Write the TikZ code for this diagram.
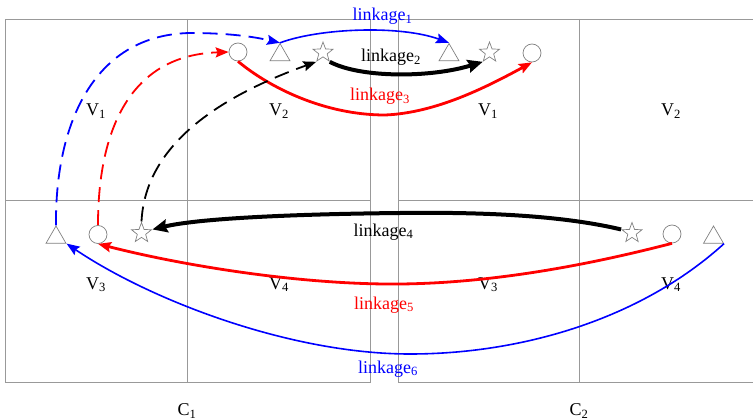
\documentclass[tikz,border=0pt]{standalone}
\usepackage{fontspec}
\setmainfont{Liberation Serif}
\usetikzlibrary{shapes.geometric,arrows.meta}
\newcommand\lnkg[1]{linkage\textsubscript{#1}}
\begin{document}
\begin{tikzpicture}[x=1pt,y=-1pt,
  gridline/.style={draw=black!40, line width=0.9pt},
  tri/.style={regular polygon, regular polygon sides=3, draw=gray, line width=0.7pt, minimum size=23pt, inner sep=0pt},
  starshape/.style={star, star points=5, star point ratio=2.4, draw=gray, line width=0.7pt, minimum size=21pt, inner sep=0pt},
  circ/.style={circle, draw=gray, line width=0.7pt, minimum size=18pt, inner sep=0pt},
  lbl/.style={font=\fontsize{18}{20}\selectfont, inner sep=0pt, anchor=base},
  dashline/.style={line width=1.8pt, dash pattern=on 15pt off 8pt},
  tipS/.style={-{Stealth[length=13pt,width=10pt,inset=2pt]}},
  tipL/.style={-{Stealth[length=15pt,width=13pt,inset=2pt]}},
]
\useasboundingbox (0,0) rectangle (753,420);
% grids
\draw[gridline] (5,19) rectangle (370,382);
\draw[gridline] (187,19) -- (187,382);
\draw[gridline] (5,200) -- (370,200);
\draw[gridline] (753,19) -- (398,19) -- (398,382) -- (753,382);
\draw[gridline] (579,19) -- (579,382);
\draw[gridline] (398,200) -- (753,200);
% region labels
\node[lbl] (v1a) at (96,115.5) {V\textsubscript{1}};
\node[lbl] (v2a) at (279,115.5) {V\textsubscript{2}};
\node[lbl] (v1b) at (488,115.5) {V\textsubscript{1}};
\node[lbl] (v2b) at (671,115.5) {V\textsubscript{2}};
\node[lbl] (v3a) at (96,289) {V\textsubscript{3}};
\node[lbl] (v4a) at (279,289) {V\textsubscript{4}};
\node[lbl] (v3b) at (488,289) {V\textsubscript{3}};
\node[lbl] (v4b) at (671,289) {V\textsubscript{4}};
\node[lbl] (c1) at (187,415.5) {C\textsubscript{1}};
\node[lbl] (c2) at (579,415.5) {C\textsubscript{2}};
% symbols
\node[circ] (tc1) at (238,52) {};
\node[tri] (tt1) at (280,55) {};
\node[starshape] (ts1) at (323,52.5) {};
\node[tri] (tt2) at (449,55) {};
\node[starshape] (ts2) at (489.5,52.5) {};
\node[circ] (tc2) at (532,53) {};
\node[tri] (bt1) at (56,237.5) {};
\node[circ] (bc1) at (98,234.5) {};
\node[starshape] (bs1) at (141.5,233) {};
\node[starshape] (bs2) at (632,233) {};
\node[circ] (bc2) at (672,234) {};
\node[tri] (bt2) at (713.5,237.5) {};
% linkage 1
\draw[blue, dashline, tipS] (bt1.corner 1) .. controls (55,130) and (90,35) .. (190,33) .. controls (230,33) and (255,37) .. (tt1.corner 1);
\draw[blue, line width=1.6pt, tipS] (tt1.corner 1) .. controls (320,28) and (400,25) .. (tt2.corner 1);
% linkage 3
\draw[red, dashline, tipS] (bc1.north) .. controls (98,130) and (130,55) .. (tc1.west);
\draw[red, line width=2.8pt, tipS] (tc1.south) .. controls (270,88) and (325,115) .. (385,115) .. controls (435,113) and (485,88) .. (tc2.south);
% linkage 2
\draw[black, dashline, tipS] (bs1.north) .. controls (145,150) and (210,100) .. (ts1.outer point 3);
\draw[black, line width=4pt, tipL] (ts1.outer point 4) .. controls (360,78) and (430,78) .. (ts2.outer point 3);
% linkage 4
\draw[black, line width=4pt, tipL] (bs2.outer point 2) .. controls (560,215) and (480,212) .. (400,213) .. controls (300,214) and (200,218) .. (bs1.outer point 5);
% linkage 5
\draw[red, line width=2.8pt, tipS] (bc2.south) .. controls (600,262) and (500,283) .. (400,284) .. controls (300,285) and (180,265) .. (bc1.south);
% linkage 6
\draw[blue, line width=1.6pt, tipS] (bt2.corner 3) .. controls (640,320) and (520,354) .. (410,354) .. controls (290,354) and (150,300) .. (bt1.corner 3);
% linkage labels
\node[lbl, text=blue] (l1) at (382.5,21) {\lnkg{1}};
\node[lbl] (l2) at (391,61.5) {\lnkg{2}};
\node[lbl, text=red] (l3) at (380,101) {\lnkg{3}};
\node[lbl] (l4) at (383.5,236) {\lnkg{4}};
\node[lbl, text=red] (l5) at (384,309) {\lnkg{5}};
\node[lbl, text=blue] (l6) at (388,373) {\lnkg{6}};
\end{tikzpicture}
\end{document}
